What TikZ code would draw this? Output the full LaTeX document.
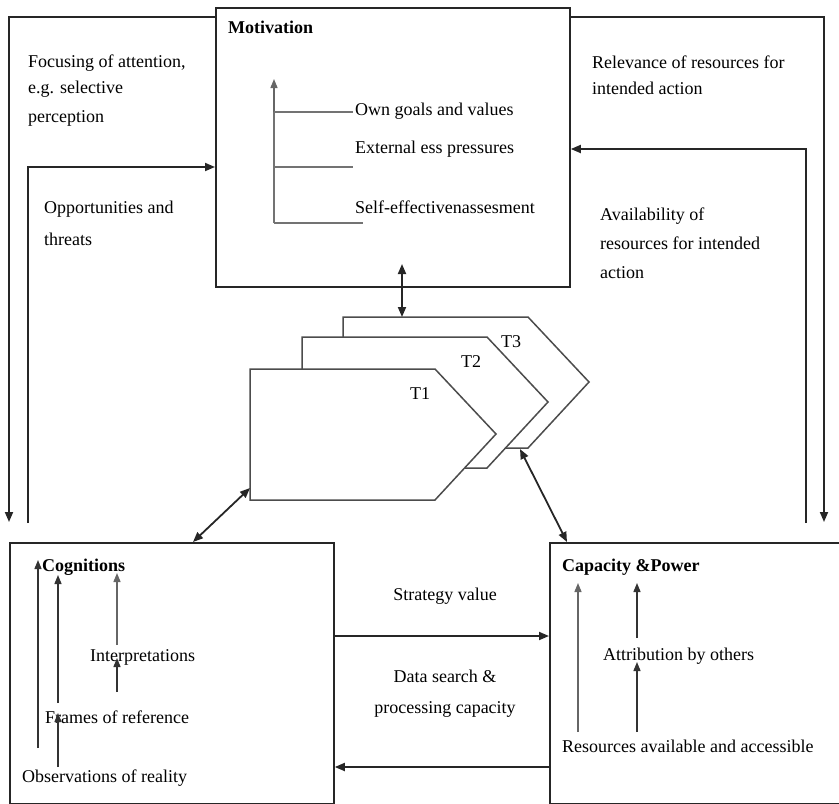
\documentclass[tikz,border=0pt]{standalone}
\usepackage{fontspec}
\setmainfont{Liberation Serif}
\usetikzlibrary{arrows.meta}
\begin{document}
\begin{tikzpicture}[x=1pt,y=-1pt,
 txt/.style={font=\fontsize{18}{22}\selectfont, inner sep=0pt, anchor=base west},
 ctxt/.style={font=\fontsize{18}{22}\selectfont, inner sep=0pt, anchor=base},
 hd/.style={txt, font=\fontsize{18}{22}\selectfont\bfseries},
 box/.style={draw=black!85, line width=1.8pt, inner sep=0pt, anchor=north west},
 conn/.style={draw=black!85, line width=1.8pt},
 arr/.style={conn, -{Triangle[length=10pt,width=8pt]}},
 darr/.style={conn, {Triangle[length=10pt,width=8pt]}-{Triangle[length=10pt,width=8pt]}},
 inarr/.style={draw=black!80, line width=1.4pt, -{Triangle[length=9pt,width=7pt]}},
 thinline/.style={draw=black!55, line width=1.4pt},
 pent/.style={draw=black!70, line width=1.5pt, fill=white},
]
\useasboundingbox (0,0) rectangle (839,804);

% main boxes
\node[box, minimum width=354pt, minimum height=279pt] (mot) at (215,7) {};
\node[box, minimum width=324pt, minimum height=261pt] (cog) at (9,542) {};
\node[box, minimum width=310pt, minimum height=261pt] (cap) at (549,542) {};

% feedback loops
\coordinate (lo) at (9,522);
\coordinate (li) at (28,523);
\coordinate (ro) at (824,522);
\coordinate (ri) at (806,523);
\draw[arr] (mot.west |- 0,17) -- (9,17) -- (lo);
\draw[arr] (li) -- (28,167) -- (mot.west |- 0,167);
\draw[arr] (mot.east |- 0,17) -- (824,17) -- (ro);
\draw[arr] (ri) -- (806,149) -- (mot.east |- 0,149);

% labels outside
\node[txt] (f1) at (28,67) {Focusing of attention,};
\node[txt] (f2) at (28,93) {e.g. selective};
\node[txt] (f3) at (28,122) {perception};
\node[txt] (o1) at (44,213) {Opportunities and};
\node[txt] (o2) at (44,245) {threats};
\node[txt] (r1) at (592,68) {Relevance of resources for};
\node[txt] (r2) at (592,94) {intended action};
\node[txt] (a1) at (600,220) {Availability of};
\node[txt] (a2) at (600,249) {resources for intended};
\node[txt] (a3) at (600,278) {action};

% motivation interior
\node[hd] (motl) at (228,33) {Motivation};
\draw[thinline] (274,223) -- (274,112);
\draw[inarr, draw=black!60] (274,112) -- (274,79);
\draw[thinline] (274,112) -- (353,112);
\draw[thinline] (274,167) -- (353,167);
\draw[thinline] (274,223) -- (363,223);
\node[txt] (m1) at (355,115) {Own goals and values};
\node[txt] (m2) at (355,153) {External ess pressures};
\node[txt] (m3) at (355,213) {Self-effectivenassesment};

% time pentagons
\draw[pent] (343,317) -- (528,317) -- (589,382) -- (528,448) -- (343,448) -- cycle;
\draw[pent] (302,337) -- (487,337) -- (548,402) -- (487,468) -- (302,468) -- cycle;
\draw[pent] (250,369) -- (435,369) -- (496,434) -- (435,500) -- (250,500) -- cycle;
\node[txt] (t1) at (410,399) {T1};
\node[txt] (t2) at (461,367) {T2};
\node[txt] (t3) at (501,347) {T3};

\coordinate (mb) at (402,264);
\coordinate (t3top) at (402,317);
\draw[darr] (t3top) -- (mb);
\coordinate (cogtop) at (193,542);
\coordinate (t1left) at (250,488);
\draw[darr] (cogtop) -- (t1left);
\coordinate (t3bot) at (520,449);
\coordinate (captop) at (567,542);
\draw[darr] (t3bot) -- (captop);

% horizontal exchanges
\draw[arr] (cog.east |- 0,636) -- (cap.west |- 0,636);
\draw[arr] (cap.west |- 0,767) -- (cog.east |- 0,767);
\node[ctxt] (sv) at (445,600) {Strategy value};
\node[ctxt] (ds1) at (445,682) {Data search \&};
\node[ctxt] (ds2) at (445,713) {processing capacity};

% cognitions interior
\node[hd] (cogl) at (42,571) {Cognitions};
\node[txt] (interp) at (90,661) {Interpretations};
\node[txt] (frames) at (45,723) {Frames of reference};
\node[txt] (obs) at (22,782) {Observations of reality};
\draw[inarr] (38,748) -- (38,560);
\draw[inarr] (58,703) -- (58,575);
\draw[inarr] (58,767) -- (58,713);
\draw[inarr] (117,692) -- (117,658);
\draw[inarr, draw=black!60] (117,645) -- (117,573);

% capacity interior
\node[hd] (capl) at (562,571) {Capacity \&Power};
\node[txt] (attr) at (603,660) {Attribution by others};
\node[txt] (res) at (562,752) {Resources available and accessible};
\draw[inarr, draw=black!60] (578,732) -- (578,583);
\draw[inarr] (637,732) -- (637,662);
\draw[inarr] (637,638) -- (637,583);
\end{tikzpicture}
\end{document}
